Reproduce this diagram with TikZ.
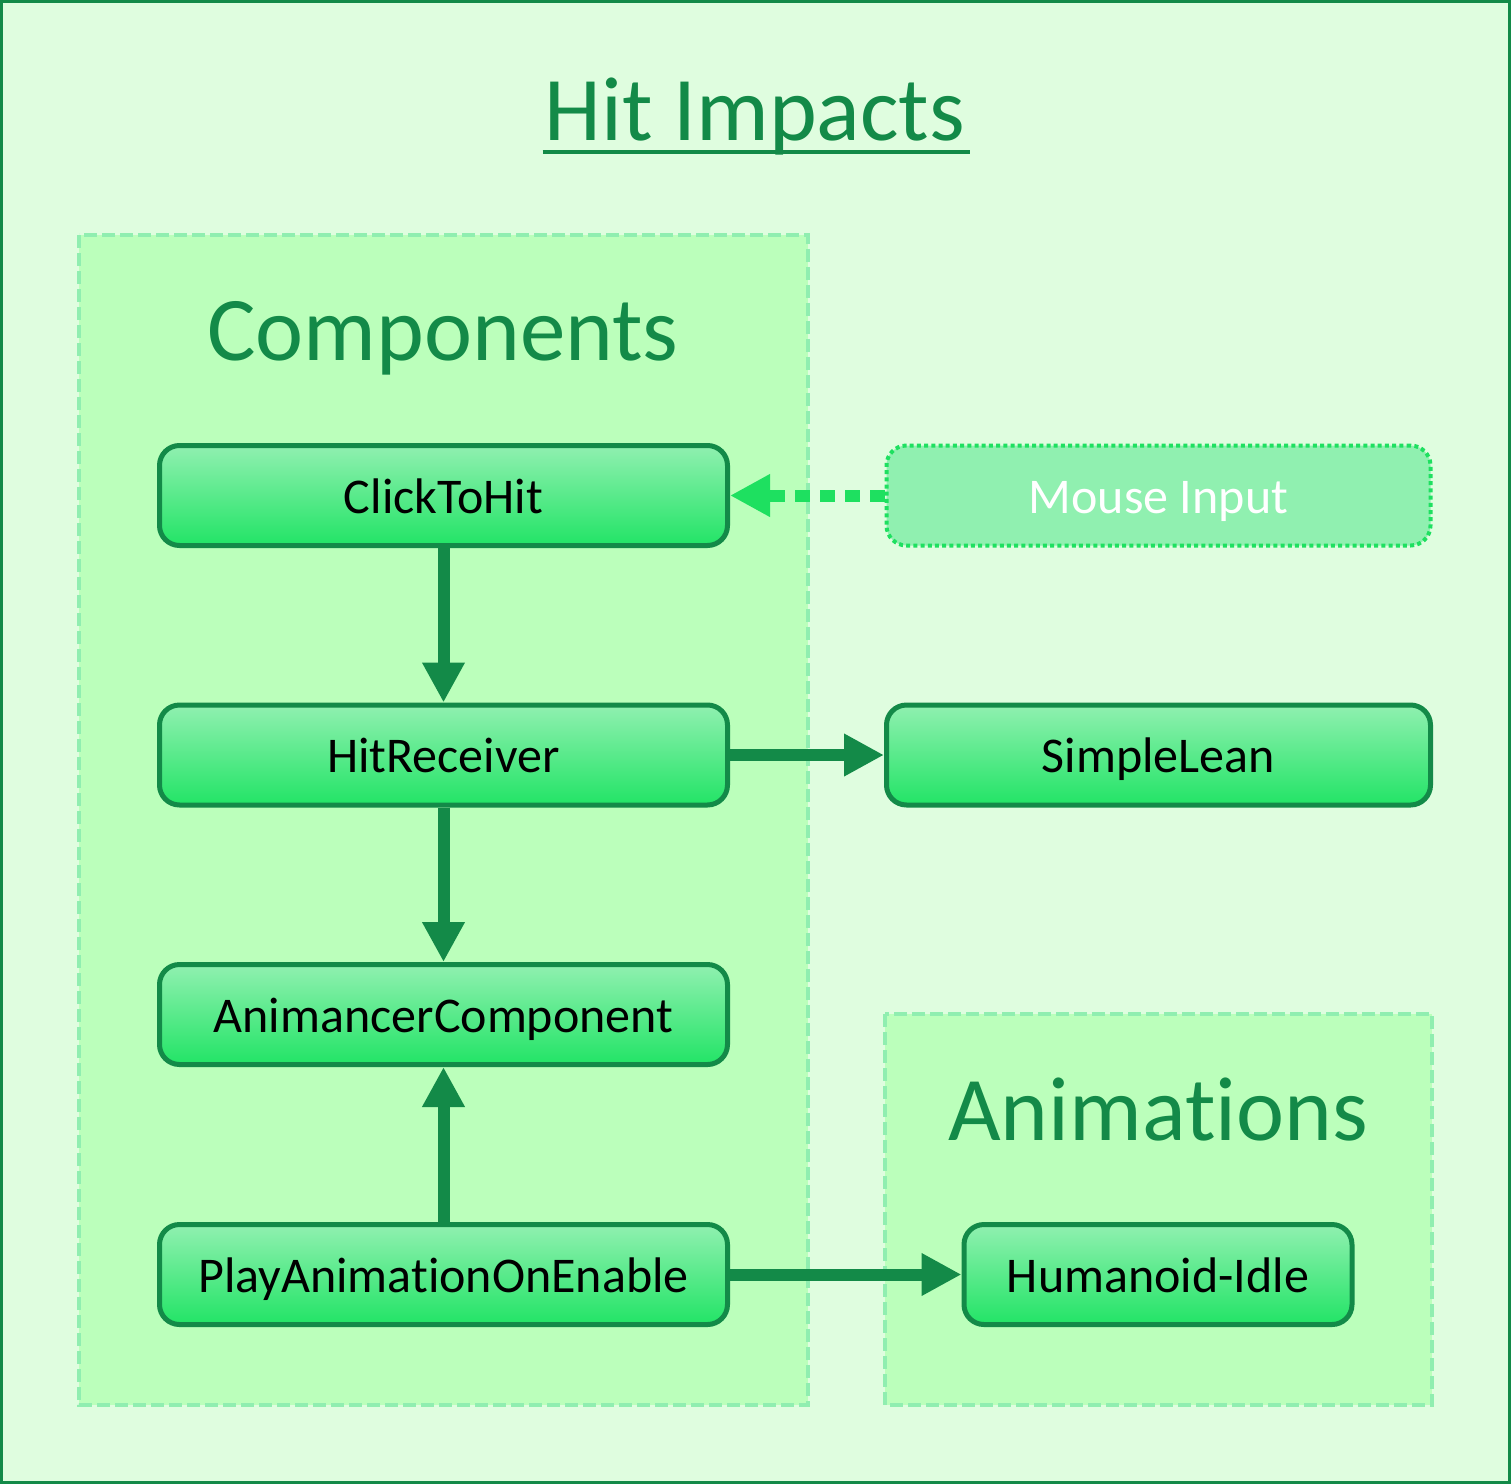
\documentclass[tikz,border=0pt]{standalone}
\usepackage{fontspec}
\setmainfont{Carlito}[Ligatures=NoCommon]
\usetikzlibrary{arrows.meta}
\definecolor{dkgreen}{HTML}{138A48}
\definecolor{bgouter}{HTML}{DFFDDF}
\definecolor{grpfill}{HTML}{BBFFBB}
\definecolor{grpline}{HTML}{90EEB0}
\definecolor{topg}{HTML}{90F0B0}
\definecolor{botg}{HTML}{22E466}
\definecolor{mouseline}{HTML}{1EE060}
\begin{document}
\begin{tikzpicture}[x=0.5pt,y=-0.5pt,
  comp/.style={draw=dkgreen, line width=2.5pt, rounded corners=10pt,
    top color=topg, bottom color=botg, minimum width=284pt, minimum height=50pt,
    inner sep=0pt, text height=17.5pt, text depth=0pt, font=\fontsize{25}{30}\selectfont},
  mouse/.style={draw=mouseline, line width=2pt, dash pattern=on 2pt off 1.6pt,
    rounded corners=10pt, fill=topg, minimum width=272pt, minimum height=50pt,
    inner sep=0pt, text height=17.5pt, text depth=0pt, text=white, font=\fontsize{25}{30}\selectfont},
  grp/.style={draw=grpline, fill=grpfill, line width=2.2pt, dash pattern=on 6.5pt off 2.5pt},
  bigtitle/.style={text=dkgreen, inner sep=0pt, anchor=base, font=\fontsize{45.5}{50}\selectfont},
  arr/.style={draw=dkgreen, line width=6pt, -{Triangle[length=20pt,width=20pt]}},
  darr/.style={draw=mouseline, line width=6pt, dash pattern=on 7.5pt off 5pt,
    -{Triangle[length=20pt,width=20pt]}}
]
\useasboundingbox (0,0) rectangle (1511,1484);
\draw[draw=dkgreen, line width=1.5pt, fill=bgouter] (1.5,1.5) rectangle (1509.5,1482.5);
\draw[grp] (79,235) rectangle (808,1405);
\draw[grp] (885,1014) rectangle (1432,1405);

\node[bigtitle] (title) at (755,140) {Hit Impacts};
\draw[dkgreen, line width=2pt] ([yshift=-6pt,xshift=-1pt]title.base west) -- ([yshift=-6pt,xshift=2pt]title.base east);
\node[bigtitle] (comps) at (443,360) {Components};
\node[bigtitle] (anims) at (1158,1140) {Animations};

\node[comp] (click) at (443.5,495.5) {ClickToHit};
\node[comp] (hit) at (443.5,755) {HitReceiver};
\node[comp] (anim) at (443.5,1014.5) {AnimancerComponent};
\node[comp] (play) at (443.5,1274.5) {PlayAnimationOnEnable};
\node[mouse] (mouse) at (1158.5,495.5) {Mouse Input};
\node[comp, minimum width=272pt] (lean) at (1158.5,755) {SimpleLean};
\node[comp, minimum width=194pt] (idle) at (1158,1274.5) {Humanoid-Idle};

\draw[arr] (click) -- (hit);
\draw[arr] (hit) -- (anim);
\draw[arr] (play) -- (anim);
\draw[arr] (hit) -- (lean);
\draw[arr] (play) -- (idle);
\draw[darr] (mouse) -- (click);
\end{tikzpicture}
\end{document}
